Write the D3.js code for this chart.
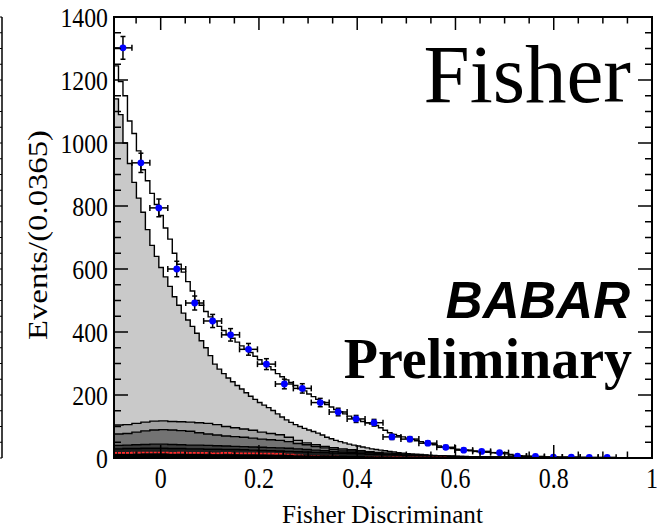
<!DOCTYPE html>
<html><head><meta charset="utf-8">
<script src="https://cdn.jsdelivr.net/npm/d3@7"></script>
<style>html,body{margin:0;padding:0;background:#fff;} svg{display:block;}</style>
</head><body><svg id="chart" width="657" height="532"></svg>
<script>
// Axis ranges
const xDomain = [-0.095, 1.0];
const yDomain = [0, 1400];

// Observed events per bin (30 bins of width 0.0365)
const dataCounts = [1302, 937, 794, 600, 492, 435, 391, 345, 298, 235,
                    221, 176, 146, 124, 112, 67, 60, 47, 34, 25,
                    21, 17, 6, 5, 3, 3, 2, 2, 0, 0];

// Total fit (120 fine bins), scaled to events per 0.0365
const totalPdf = [1245,1195,1150,1070,1030,975,915,880,840,805,
  770,730,695,650,615,590,560,530,500,485,
  465,448,432,418,405,392,380,368,356,345,
  335,323,312,300,290,280,268,258,248,240,
  230,220,213,203,195,186,178,170,162,154,
  147,140,133,127,121,116,112,108,103,96,
  88,80,75,71,67,63,59,55,52,48,
  45,42,38,35,32,30,28,26,25,23,
  22,20,19,18,17,16,15,13,11,8,
  7,6,5.5,5,4.5,4,3.6,3.3,3,2.7,
  2.4,2.2,2,1.8,1.6,1.5,1.3,1.2,1.1,1.0,
  0.95,0.9,0.85,0.8,0.75,0.7,0.65,0.6,0.55,0.5];

// Continuum + B backgrounds, stacked (120 fine bins)
const continuumStack = [1140,1090,1000,935,875,825,780,725,675,640,
  605,575,545,512,485,460,438,418,396,372,
  350,325,298,282,268,254,242,230,219,207,
  196,186,176,168,160,151,140,130,121,113,
  106,100,94,89,84,79,73,66,61,56,
  52,48,44,41,38,35,32,29,27,25,
  23,21,19,17,15.5,14,13,12,11,10,
  9.2,8.4,7.7,7,6.4,5.9,5.4,5,4.6,4.2,
  3.9,3.6,3.3,3.1,2.9,2.7,2.5,2.3,2.2,2.1,
  2,1.9,1.8,1.7,1.6,1.5,1.4,1.3,1.2,1.15,
  1.1,1.05,1,0.95,0.9,0.85,0.8,0.75,0.7,0.66,
  0.62,0.58,0.55,0.52,0.5,0.47,0.45,0.43,0.41,0.4];

// B background components, stacked (60 fine bins each)
const bkgStackA = [105,106,110,114,117,118,116,115,114,112,
  110,106,100,96,92,88,82,78,74,66,
  56,48,42,37,33,29,26,23,20,18,
  16,14,12.5,10.5,9,7.6,6.5,5.6,4.8,4.2,
  3.6,3.2,2.8,2.4,2.1,1.9,1.7,1.5,1.3,1.15,
  1.05,0.95,0.85,0.75,0.65,0.55,0.5,0.45,0.4,0.35];
const bkgStackB = [76,78,82,86,89,90,89,87,85,80,
  76,73,70,68,66,63,60,58,56,52,
  46,42,36,32,28,25,22,19,17,15,
  13,11.5,10,9,8,7,6,5.2,4.5,4,
  3.5,3,2.6,2.3,2,1.8,1.6,1.4,1.2,1.1,
  1,0.9,0.8,0.7,0.6,0.5,0.45,0.4,0.35,0.3];
const bkgStackC = [40,41,42,43,44,44,43,42,41,41,
  40,39,38,37,36,35,34,33,32,31,
  29,27,25,23,21,19,17,15,13,12,
  10.5,9.5,8.5,7.5,6.5,5.8,5.2,4.6,4,3.5,
  3.1,2.7,2.4,2.1,1.8,1.6,1.4,1.2,1.1,1,
  0.9,0.8,0.7,0.6,0.5,0.45,0.4,0.35,0.3,0.25];
const bkgStackD = [29,30,30,31,31,31,30,30,29,29,
  28,28,27,27,26,25,24,23,22,21,
  20,19,18,17,16,15,14,13,12,11,
  10,9,8,7,6.3,5.6,5,4.4,3.9,3.4,
  3,2.6,2.3,2,1.8,1.6,1.4,1.2,1,0.9,
  0.8,0.7,0.6,0.5,0.45,0.4,0.35,0.3,0.25,0.2];
const peakingStack = [13,13,13,14,14,14,13,13,13,13,
  12,12,12,12,11,11,11,10,10,10,
  9,9,8,8,7,7,6,6,5.5,5,
  4.5,4,3.6,3.2,2.9,2.6,2.3,2,1.8,1.6,
  1.4,1.2,1.1,1,0.9,0.8,0.7,0.6,0.5,0.5,
  0.4,0.4,0.3,0.3,0.3,0.2,0.2,0.2,0.1,0.1];
// Signal component (60 fine bins)
const signalCurve = [16,16,17,17,17,17,16,17,16,16,
  16,15,16,15,15,15,14,14,13,11,
  8,6.5,5.5,4.5,4,3.5,3,2.6,2.3,2,
  1.8,1.6,1.4,1.2,1,0.9,0.8,0.7,0.6,0.5,
  0.45,0.4,0.35,0.3,0.25,0.2,0.2,0.15,0.15,0.1,
  0.1,0.1,0.1,0.05,0.05,0.05,0.05,0.05,0.05,0.05];

const xTickLabels = [0, 0.2, 0.4, 0.6, 0.8, 1];
const yTickLabels = [0, 200, 400, 600, 800, 1000, 1200, 1400];

const svg = d3.select("#chart");
const m = {left: 114, right: 652, top: 17, bottom: 458};
const x = d3.scaleLinear().domain(xDomain).range([m.left, m.right]);
const y = d3.scaleLinear().domain(yDomain).range([m.bottom, m.top]);
const serif = "'Liberation Serif','Times New Roman',serif";

svg.append("defs").append("clipPath").attr("id", "plotClip")
  .append("rect").attr("x", m.left).attr("y", m.top)
  .attr("width", m.right - m.left).attr("height", m.bottom - m.top);

// histogram helpers
function stepPoints(vals) {
  const n = vals.length, w = (xDomain[1] - xDomain[0]) / n;
  const pts = vals.map((v, i) => [xDomain[0] + i * w, v]);
  pts.push([xDomain[1], vals[n - 1]]);
  return pts;
}
const area = d3.area().curve(d3.curveStepAfter)
  .x(d => x(d[0])).y0(y(0)).y1(d => y(d[1]));
const line = d3.line().curve(d3.curveStepAfter)
  .x(d => x(d[0])).y(d => y(d[1]));

const plot = svg.append("g").attr("clip-path", "url(#plotClip)");

const stacks = [
  {vals: continuumStack, fill: "#c9c9c9"},
  {vals: bkgStackA, fill: "#a2a2a2"},
  {vals: bkgStackB, fill: "#737373"},
  {vals: bkgStackC, fill: "#3e3e3e"},
  {vals: bkgStackD, fill: "#1e1e1e"}
];
stacks.forEach(s => {
  const pts = stepPoints(s.vals);
  plot.append("path").attr("d", area(pts)).attr("fill", s.fill);
  plot.append("path").attr("d", line(pts)).attr("fill", "none")
    .attr("stroke", "#000").attr("stroke-width", 1.4);
});

// signal
plot.append("path").attr("d", line(stepPoints(signalCurve)))
  .attr("fill", "none").attr("stroke", "#ff2a2a").attr("stroke-width", 1.8)
  .attr("stroke-dasharray", "3,1");
plot.append("path").attr("d", area(stepPoints(peakingStack))).attr("fill", "#000");

// total fit
plot.append("path").attr("d", line(stepPoints(totalPdf))).attr("fill", "none")
  .attr("stroke", "#000").attr("stroke-width", 1.4);

// data points with error bars
const binW = (xDomain[1] - xDomain[0]) / dataCounts.length;
const pts = dataCounts.map((v, i) => ({c: xDomain[0] + (i + 0.5) * binW, v}))
  .filter(d => d.v > 0);
const eb = plot.append("g").attr("stroke", "#000").attr("stroke-width", 1.5);
pts.forEach(d => {
  const e = Math.sqrt(d.v);
  const cx = x(d.c), cy = y(d.v);
  const x1 = x(d.c - binW / 2), x2 = x(d.c + binW / 2);
  const yt = y(d.v + e), yb = y(d.v - e);
  eb.append("line").attr("x1", x1).attr("x2", x2).attr("y1", cy).attr("y2", cy);
  eb.append("line").attr("x1", cx).attr("x2", cx).attr("y1", yt).attr("y2", yb);
  [x1, x2].forEach(xx => eb.append("line").attr("x1", xx).attr("x2", xx)
    .attr("y1", cy - 3).attr("y2", cy + 3));
  [yt, yb].forEach(yy => eb.append("line").attr("x1", cx - 2.5).attr("x2", cx + 2.5)
    .attr("y1", yy).attr("y2", yy));
});
plot.append("g").selectAll("circle").data(pts).join("circle")
  .attr("cx", d => x(d.c)).attr("cy", d => y(d.v)).attr("r", 3.4).attr("fill", "#0000ff");

// frame and ticks
const ax = svg.append("g").attr("stroke", "#000");
ax.append("rect").attr("x", m.left).attr("y", m.top)
  .attr("width", m.right - m.left).attr("height", m.bottom - m.top)
  .attr("fill", "none").attr("stroke-width", 2);
const xMinor = d3.range(-1, 20).map(i => Math.round(i * 5) / 100);
xMinor.forEach(t => {
  if (t < xDomain[0] || t > xDomain[1]) return;
  const major = Math.abs(Math.round(t * 5) - t * 5) < 1e-6;
  const len = major ? 13 : 6.5;
  ax.append("line").attr("x1", x(t)).attr("x2", x(t)).attr("y1", m.bottom).attr("y2", m.bottom - len).attr("stroke-width", 1.5);
  ax.append("line").attr("x1", x(t)).attr("x2", x(t)).attr("y1", m.top).attr("y2", m.top + len).attr("stroke-width", 1.5);
});
d3.range(0, 1401, 50).forEach(t => {
  const len = t % 200 === 0 ? 14 : 7;
  ax.append("line").attr("x1", m.left).attr("x2", m.left + len).attr("y1", y(t)).attr("y2", y(t)).attr("stroke-width", 1.5);
  ax.append("line").attr("x1", m.right).attr("x2", m.right - len).attr("y1", y(t)).attr("y2", y(t)).attr("stroke-width", 1.5);
});

// neighbouring panel edge
const edge = svg.append("g").attr("stroke", "#000");
edge.append("line").attr("x1", 2).attr("x2", 2).attr("y1", m.top).attr("y2", m.bottom).attr("stroke-width", 1.5);
d3.range(0, 1401, 50).forEach(t => {
  edge.append("line").attr("x1", 0).attr("x2", 2).attr("y1", y(t)).attr("y2", y(t)).attr("stroke-width", 1);
});

// tick labels
yTickLabels.forEach(t => {
  svg.append("text").attr("transform", `translate(108,${y(t) + 9.5}) scale(0.88,1)`)
    .attr("text-anchor", "end").attr("font-family", serif).attr("font-size", 27)
    .text(t);
});
xTickLabels.forEach(t => {
  svg.append("text").attr("transform", `translate(${x(t)},488) scale(0.8,1)`)
    .attr("text-anchor", "middle").attr("font-family", serif).attr("font-size", 30)
    .text(t);
});

// axis titles
svg.append("text").attr("x", 382.5).attr("y", 523).attr("text-anchor", "middle")
  .attr("font-family", serif).attr("font-size", 26)
  .attr("textLength", 201).attr("lengthAdjust", "spacingAndGlyphs")
  .text("Fisher Discriminant");
svg.append("text").attr("transform", "translate(47,235) rotate(-90)")
  .attr("text-anchor", "middle").attr("font-family", serif).attr("font-size", 28)
  .attr("textLength", 210).attr("lengthAdjust", "spacingAndGlyphs")
  .text("Events/(0.0365)");

// annotations
svg.append("text").attr("x", 631).attr("y", 102).attr("text-anchor", "end")
  .attr("font-family", serif).attr("font-size", 83).text("Fisher");
svg.append("text").attr("x", 630).attr("y", 318).attr("text-anchor", "end")
  .attr("font-family", "'Liberation Sans',Arial,sans-serif").attr("font-weight", "bold")
  .attr("font-style", "italic").attr("font-size", 51).text("BABAR");
svg.append("text").attr("x", 632).attr("y", 378).attr("text-anchor", "end")
  .attr("font-family", serif).attr("font-weight", "bold")
  .attr("font-size", 56).text("Preliminary");
</script>
</body></html>
